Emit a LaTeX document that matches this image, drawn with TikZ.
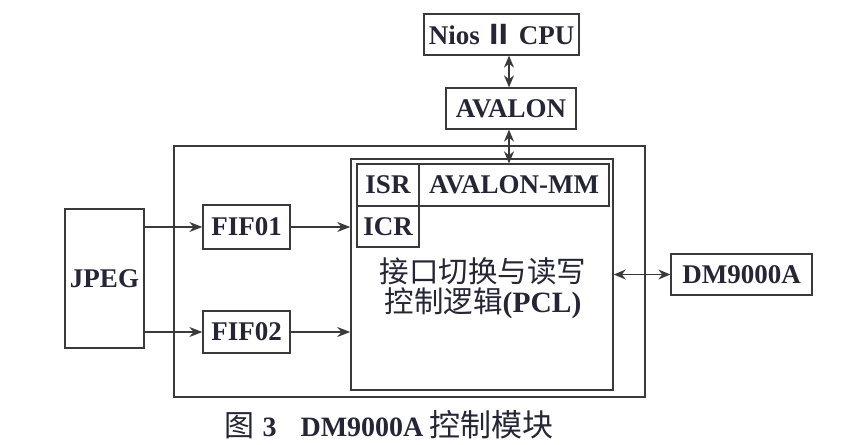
\documentclass[tikz,border=0pt]{standalone}
\usepackage{fontspec}
\setmainfont{Liberation Serif}
\newfontfamily\cjk{Noto Sans CJK SC}
\usetikzlibrary{arrows.meta}
\definecolor{ln}{HTML}{3A3A3A}
\definecolor{tx}{HTML}{252535}
\tikzset{
  blk/.style={draw=ln, line width=1.3pt, rectangle, inner sep=0pt, text=tx,
    font=\fontsize{27}{30}\selectfont\bfseries},
  conn/.style={draw=ln, line width=1.4pt, -{Stealth[length=13pt,width=10pt]}},
  bconn/.style={draw=ln, line width=1.4pt, {Stealth[length=12pt,width=10pt]}-{Stealth[length=12pt,width=10pt]}},
}
\begin{document}
\begin{tikzpicture}[x=1pt,y=-1pt]
\useasboundingbox (0,0) rectangle (850,444);
% boxes
\node[blk, minimum width=155pt, minimum height=41pt] (nios) at (501.5,34.5) {Nios\hspace{6pt}{\cjk Ⅱ}\hspace{6pt}CPU};
\node[blk, minimum width=130pt, minimum height=41pt] (avalon) at (511,108.5) {AVALON};
\node[blk, line width=1.5pt, minimum width=471pt, minimum height=251pt] (outer) at (409.5,271.5) {};
\node[blk, line width=1.6pt, minimum width=262pt, minimum height=231pt] (pcl) at (482,274.5) {};
\node[blk, minimum width=62pt, minimum height=42pt] (isr) at (388,185) {ISR};
\node[blk, minimum width=190pt, minimum height=42pt] (mm) at (514,185) {AVALON-MM};
\node[blk, minimum width=62pt, minimum height=41pt] (icr) at (388,226.5) {ICR};
\node[blk, minimum width=79pt, minimum height=139pt] (jpeg) at (104.5,278.5) {JPEG};
\node[blk, minimum width=87pt, minimum height=44pt] (fif1) at (246.5,227) {FIF01};
\node[blk, minimum width=87pt, minimum height=42pt] (fif2) at (246.5,332) {FIF02};
\node[blk, minimum width=141pt, minimum height=41pt] (dm) at (741.5,274.5) {DM9000A};
\node[text=tx, align=center, font=\fontsize{29.5}{30}\selectfont] (pcltext) at (483,288)
  {{\cjk 接口切换与读写}\\{\cjk 控制逻辑}\textbf{(PCL)}};
% caption
\node[text=tx, font=\fontsize{28}{30}\selectfont] (cap) at (389,425)
  {{\cjk\fontsize{30}{30}\selectfont 图}\hspace{8pt}\textbf{3}\hspace{24pt}\textbf{DM9000A}\hspace{6pt}{\cjk\fontsize{31}{30}\selectfont 控制模块}};
% connectors
\coordinate (bx) at (509,0);
\draw[bconn] (nios.south -| bx) -- (avalon.north -| bx);
\draw[bconn] (avalon.south -| bx) -- (mm.north -| bx);
\draw[conn] (jpeg.east |- fif1.west) -- (fif1.west);
\draw[conn] (fif1.east) -- (pcl.west |- fif1.east);
\draw[conn] (jpeg.east |- fif2.west) -- (fif2.west);
\draw[conn] (fif2.east) -- (pcl.west |- fif2.east);
\draw[bconn] (pcl.east |- dm.west) -- (dm.west);
\end{tikzpicture}
\end{document}
